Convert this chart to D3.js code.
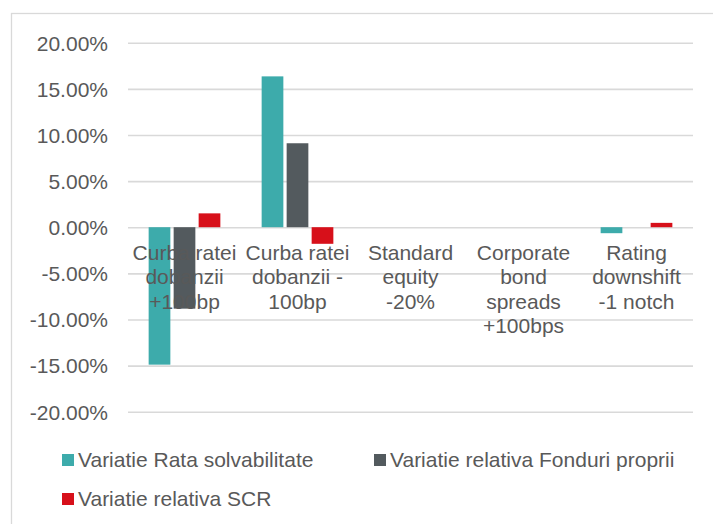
<!DOCTYPE html>
<html>
<head>
<meta charset="utf-8">
<script src="https://cdn.jsdelivr.net/npm/d3@7"></script>
<style>
  html, body { margin: 0; padding: 0; background: #ffffff; }
  svg { display: block; font-family: "Liberation Sans", Arial, sans-serif; }
</style>
</head>
<body>
<svg id="chart" width="713" height="524"></svg>
<script>
// Stress-test scenarios (category axis), wrapped the way they are shown
const categories = [
  "Curba ratei dobanzii +100bp",
  "Curba ratei dobanzii -100bp",
  "Standard equity -20%",
  "Corporate bond spreads +100bps",
  "Rating downshift -1 notch"
];
const categoryLines = [
  ["Curba ratei", "dobanzii", "+100bp"],
  ["Curba ratei", "dobanzii -", "100bp"],
  ["Standard", "equity", "-20%"],
  ["Corporate", "bond", "spreads", "+100bps"],
  ["Rating", "downshift", "-1 notch"]
];

// Series (percent change)
const seriesNames = [
  "Variatie Rata solvabilitate",
  "Variatie relativa Fonduri proprii",
  "Variatie relativa SCR"
];
const rataSolvabilitate = [-14.9, 16.35, 0, 0, -0.65];
const fonduriProprii    = [-8.83, 9.1, 0, 0, 0];
const variatieSCR       = [1.5, -1.8, 0, 0, 0.47];
const seriesValues = [rataSolvabilitate, fonduriProprii, variatieSCR];
const seriesColors = ["#3dabab", "#535a5e", "#d7101a"];

// Value axis ticks
const yTicks = [20, 15, 10, 5, 0, -5, -10, -15, -20];

const svg = d3.select("#chart");
const textColor = "#595959";
const gridColor = "#d9d9d9";

// Outer chart frame
svg.append("rect")
  .attr("x", 11.5).attr("y", 13.5)
  .attr("width", 740).attr("height", 540)
  .attr("fill", "none").attr("stroke", gridColor).attr("stroke-width", 1.3);

const plot = { left: 128, right: 693, top: 42.7, bottom: 411.7 };

const y = d3.scaleLinear().domain([-20, 20]).range([plot.bottom, plot.top]);
const x0 = d3.scaleBand().domain(d3.range(categories.length))
  .range([plot.left, plot.right]).paddingInner(0).paddingOuter(0);
const groupW = 71.7;
const x1 = d3.scaleBand().domain(d3.range(seriesNames.length))
  .range([(x0.bandwidth() - groupW) / 2, (x0.bandwidth() + groupW) / 2])
  .paddingInner(0.132).paddingOuter(0);

// Percent labels with a plain hyphen for negatives
const pct = d => d.toFixed(2) + "%";

// Gridlines and tick labels via a left axis
const yAxis = d3.axisLeft(y)
  .tickValues(yTicks)
  .tickSize(-(plot.right - plot.left))
  .tickPadding(20)
  .tickFormat(pct);

const axisG = svg.append("g")
  .attr("transform", `translate(${plot.left},0)`)
  .call(yAxis);
axisG.select(".domain").remove();
axisG.selectAll(".tick line")
  .attr("stroke", gridColor).attr("stroke-width", 1.6);
axisG.selectAll(".tick text")
  .attr("fill", textColor)
  .attr("font-size", 21)
  .attr("font-family", "'Liberation Sans', Arial, sans-serif")
  .attr("dy", "0.35em");

// Bars
const groups = svg.append("g").selectAll("g")
  .data(categories.map((c, i) => i))
  .join("g")
  .attr("transform", i => `translate(${x0(i)},0)`);

groups.selectAll("rect")
  .data(i => seriesValues.map((vals, s) => ({ s, v: vals[i] })))
  .join("rect")
  .attr("x", d => x1(d.s))
  .attr("width", x1.bandwidth())
  .attr("y", d => y(Math.max(0, d.v)))
  .attr("height", d => Math.abs(y(d.v) - y(0)))
  .attr("fill", d => seriesColors[d.s]);

// Category labels (drawn over the bars, low position)
const labelG = svg.append("g");
categoryLines.forEach((lines, i) => {
  const t = labelG.append("text")
    .attr("x", x0(i) + x0.bandwidth() / 2)
    .attr("y", 260)
    .attr("text-anchor", "middle")
    .attr("fill", textColor)
    .attr("font-size", 21);
  lines.forEach((ln, k) => {
    t.append("tspan")
      .attr("x", x0(i) + x0.bandwidth() / 2)
      .attr("y", 260 + k * 24.4)
      .text(ln);
  });
});

// Legend
const legendPos = [
  { x: 62, y: 460 },
  { x: 374, y: 460 },
  { x: 62, y: 499 }
];
const legend = svg.append("g");
seriesNames.forEach((name, s) => {
  const p = legendPos[s];
  legend.append("rect")
    .attr("x", p.x).attr("y", p.y - 6)
    .attr("width", 12).attr("height", 12)
    .attr("fill", seriesColors[s]);
  legend.append("text")
    .attr("x", p.x + 16).attr("y", p.y)
    .attr("dy", "0.35em")
    .attr("fill", textColor)
    .attr("font-size", 21)
    .text(name);
});
</script>
</body>
</html>
